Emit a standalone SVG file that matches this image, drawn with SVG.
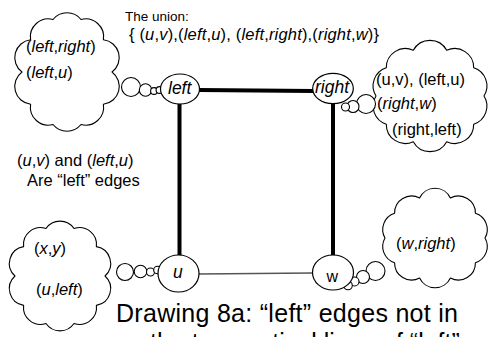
<svg xmlns="http://www.w3.org/2000/svg" width="492" height="337" viewBox="0 0 492 337">
  <style>
    text { font-family: "Liberation Sans", Arial, Helvetica, sans-serif; fill: #000; }
    .t13 { font-size: 13.5px; }
    .t16 { font-size: 16.5px; }
    .lbl { font-size: 17.5px; font-style: italic; }
    .big { font-size: 25px; }
    .node { fill: #fff; stroke: #000; stroke-width: 1.2; }
    .cloud { fill: #fff; stroke: #000; stroke-width: 1.1; stroke-linejoin: round; }
    .bub { fill: #fff; stroke: #000; stroke-width: 1.1; }
    .thick { stroke: #000; stroke-width: 4; fill: none; }
    .thin { stroke: #555; stroke-width: 1.5; fill: none; }
  </style>

  <!-- edges -->
  <g id="connectors">
    <line class="thick" x1="199" y1="90" x2="313" y2="91"/>
    <line class="thick" x1="179.5" y1="104" x2="179.5" y2="256"/>
    <line class="thick" x1="333" y1="103" x2="333" y2="256"/>
    <line class="thin" x1="199" y1="274" x2="313" y2="273"/>
  </g>

  <!-- caption of the union set -->
  <g id="union-note">
    <text class="t13" x="125" y="21">The union:</text>
    <text class="t16" x="129" y="40" textLength="250" lengthAdjust="spacing">{ (<tspan font-style="italic">u</tspan>,<tspan font-style="italic">v</tspan>),(<tspan font-style="italic">left</tspan>,<tspan font-style="italic">u</tspan>), (<tspan font-style="italic">left</tspan>,<tspan font-style="italic">right</tspan>),(<tspan font-style="italic">right</tspan>,<tspan font-style="italic">w</tspan>)}</text>
  </g>

  <!-- thought cloud attached to "left" -->
  <g id="cloud-left">
    <path class="cloud" d="M 112 72 A 18 18 0 0 1 103.4 104.3 A 18 18 0 0 1 81 124.5 A 18 18 0 0 1 53 124.5 A 18 18 0 0 1 30.6 104.3 A 18 18 0 0 1 22 72 A 18 18 0 0 1 30.6 39.7 A 18 18 0 0 1 53 19.5 A 18 18 0 0 1 81 19.5 A 18 18 0 0 1 103.4 39.7 A 18 18 0 0 1 112 72 Z"/>
    <circle class="bub" cx="131" cy="87" r="9.5"/>
    <circle class="bub" cx="145.5" cy="90" r="6.2"/>
    <circle class="bub" cx="154" cy="91" r="3.4"/>
    <circle class="bub" cx="159.5" cy="90" r="3.4"/>
    <text class="t16" x="26" y="52">(<tspan font-style="italic">left</tspan>,<tspan font-style="italic">right</tspan>)</text>
    <text class="t16" x="26" y="78">(<tspan font-style="italic">left</tspan>,<tspan font-style="italic">u</tspan>)</text>
  </g>

  <!-- thought cloud attached to "right" -->
  <g id="cloud-right">
    <path class="cloud" d="M 484 96 A 19 19 0 0 1 473.7 124.2 A 19 19 0 0 1 446.7 141.7 A 19 19 0 0 1 413.3 141.7 A 19 19 0 0 1 386.3 124.2 A 19 19 0 0 1 376 96 A 19 19 0 0 1 386.3 67.8 A 19 19 0 0 1 413.3 50.3 A 19 19 0 0 1 446.7 50.3 A 19 19 0 0 1 473.7 67.8 A 19 19 0 0 1 484 96 Z"/>
    <circle class="bub" cx="366" cy="104" r="9.5"/>
    <circle class="bub" cx="353" cy="106.5" r="6"/>
    <circle class="bub" cx="345.5" cy="107" r="4"/>
    <text class="t16" x="376" y="85">(u,v), (left,u)</text>
    <text class="t16" x="377" y="109">(<tspan font-style="italic">right</tspan>,<tspan font-style="italic">w</tspan>)</text>
    <text class="t16" x="392" y="135">(right,left)</text>
  </g>

  <!-- side note -->
  <g id="left-edges-note">
    <text class="t16" x="17" y="166">(<tspan font-style="italic">u</tspan>,<tspan font-style="italic">v</tspan>) and (<tspan font-style="italic">left</tspan>,<tspan font-style="italic">u</tspan>)</text>
    <text class="t16" x="27" y="186">Are “left” edges</text>
  </g>

  <!-- thought cloud attached to "u" -->
  <g id="cloud-u">
    <path class="cloud" d="M 105 276 A 17 17 0 0 1 96.4 305.4 A 17 17 0 0 1 74 323.5 A 17 17 0 0 1 46 323.5 A 17 17 0 0 1 23.6 305.4 A 17 17 0 0 1 15 276 A 17 17 0 0 1 23.6 246.6 A 17 17 0 0 1 46 228.5 A 17 17 0 0 1 74 228.5 A 17 17 0 0 1 96.4 246.6 A 17 17 0 0 1 105 276 Z"/>
    <circle class="bub" cx="125" cy="272" r="8.5"/>
    <circle class="bub" cx="140.5" cy="271.5" r="6.3"/>
    <circle class="bub" cx="150.5" cy="272" r="4"/>
    <circle class="bub" cx="157.5" cy="270" r="3.8"/>
    <text class="t16" x="34" y="254">(<tspan font-style="italic">x</tspan>,<tspan font-style="italic">y</tspan>)</text>
    <text class="t16" x="36" y="295">(<tspan font-style="italic">u</tspan>,<tspan font-style="italic">left</tspan>)</text>
  </g>

  <!-- thought cloud attached to "w" -->
  <g id="cloud-w">
    <path class="cloud" d="M 485 238 A 17 17 0 0 1 475.4 262.7 A 17 17 0 0 1 450.4 278 A 17 17 0 0 1 419.6 278 A 17 17 0 0 1 394.6 262.7 A 17 17 0 0 1 385 238 A 17 17 0 0 1 394.6 213.3 A 17 17 0 0 1 419.6 198 A 17 17 0 0 1 450.4 198 A 17 17 0 0 1 475.4 213.3 A 17 17 0 0 1 485 238 Z"/>
    <circle class="bub" cx="375.5" cy="271" r="9.5"/>
    <circle class="bub" cx="363" cy="277" r="6.5"/>
    <circle class="bub" cx="354.5" cy="281.5" r="4.5"/>
    <circle class="bub" cx="348" cy="285.5" r="4.3"/>
    <text class="t16" x="396" y="249">(<tspan font-style="italic">w</tspan>,<tspan font-style="italic">right</tspan>)</text>
  </g>

  <!-- graph nodes -->
  <g id="node-left">
    <ellipse class="node" cx="180" cy="89" rx="19.5" ry="15"/>
    <text class="lbl" x="168" y="94">left</text>
  </g>
  <g id="node-right">
    <ellipse class="node" cx="333" cy="88.5" rx="20.3" ry="15.2"/>
    <text class="lbl" x="315" y="93">right</text>
  </g>
  <g id="node-u">
    <ellipse class="node" cx="178.5" cy="273.5" rx="20.5" ry="18.5"/>
    <text class="lbl" x="173" y="278">u</text>
  </g>
  <g id="node-w">
    <ellipse class="node" cx="333" cy="272.5" rx="20.5" ry="17.5"/>
    <text x="326.5" y="282" font-size="16">w</text>
  </g>

  <!-- figure caption (second line runs past the bottom edge) -->
  <g id="caption">
    <text class="big" x="116" y="322" textLength="342" lengthAdjust="spacing">Drawing 8a: “left” edges not in</text>
    <text class="big" x="150" y="351">the two vertical lines of “left”</text>
  </g>
</svg>
